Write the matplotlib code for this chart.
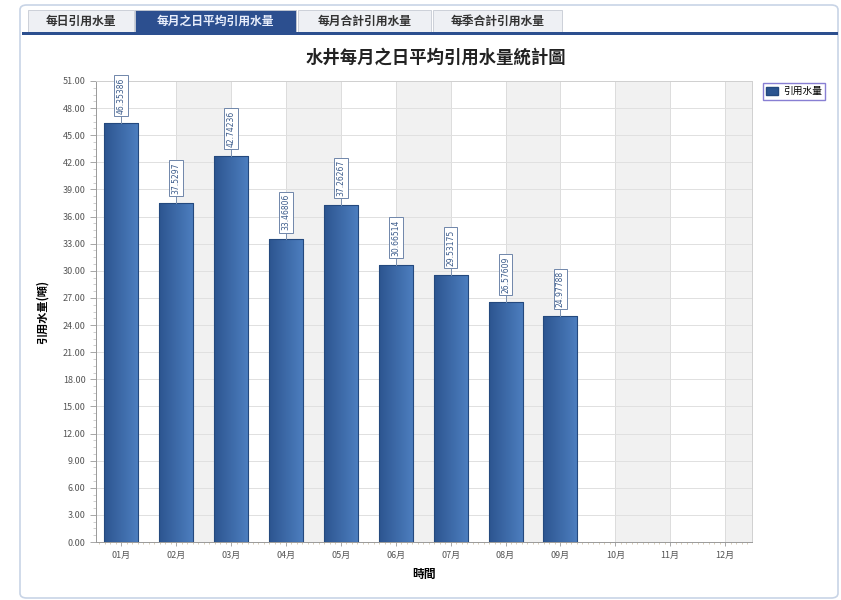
import numpy as np
import matplotlib.pyplot as plt
from matplotlib.patches import Rectangle, FancyBboxPatch
from matplotlib.ticker import MultipleLocator, FormatStrFormatter

# ============================================================
# data
# ============================================================

MONTHS = ["01月", "02月", "03月", "04月", "05月", "06月",
          "07月", "08月", "09月", "10月", "11月", "12月"]
VALUES = [46.35386, 37.5297, 42.74236, 33.46806, 37.26267,
          30.66514, 29.53175, 26.57609, 24.97788]
VALUE_LABELS = ["46.35386", "37.5297", "42.74236", "33.46806", "37.26267",
                "30.66514", "29.53175", "26.57609", "24.97788"]
TABS = ["每日引用水量", "每月之日平均引用水量", "每月合計引用水量", "每季合計引用水量"]

TITLE = "水井每月之日平均引用水量統計圖"
Y_LABEL = "引用水量(噸)"
X_LABEL = "時間"
SERIES = "引用水量"

plt.rcParams["font.family"] = ["Noto Sans CJK TC", "DejaVu Sans"]

BAR_DARK = np.array([0x2c, 0x55, 0x90]) / 255
BAR_LIGHT = np.array([0x4e, 0x7f, 0xc0]) / 255

fig = plt.figure(figsize=(8.41, 6.0), dpi=100)

# ---- outer panel and tabs (figure pixel coords) ----
W, H = 841, 600


def fx(x):
    return x / W


def fy(y):
    return 1 - y / H


panel = FancyBboxPatch((fx(20), fy(598)), fx(818), 593 / H,
                       boxstyle="round,pad=0,rounding_size=0.008",
                       transform=fig.transFigure, facecolor="white",
                       edgecolor="#c8d4e6", linewidth=1.2, zorder=-5)
fig.patches.append(panel)

tab_x = [(28, 134), (135, 296), (298, 431), (433, 562)]
for i, (name, (x0, x1)) in enumerate(zip(TABS, tab_x)):
    sel = i == 1
    fig.patches.append(Rectangle((fx(x0), fy(32)), fx(x1 - x0), 22 / H,
                                 transform=fig.transFigure,
                                 facecolor="#2c4f8f" if sel else "#eef0f4",
                                 edgecolor="#c5cad3", linewidth=0.6, zorder=-4))
    fig.text(fx((x0 + x1) / 2), fy(21), name, ha="center", va="center",
             fontsize=8.5, fontweight="bold",
             color="#e8eefc" if sel else "#333333")

fig.patches.append(Rectangle((fx(22), fy(35)), fx(816), 3 / H,
                             transform=fig.transFigure, facecolor="#2c4f8f",
                             edgecolor="none", zorder=-4))

# ---- chart ----
ax = fig.add_axes([fx(96), fy(542), fx(752 - 96), (542 - 81) / H])
ax.set_zorder(2)
x = np.arange(len(MONTHS))
XLIM = (-0.46, len(MONTHS) - 0.51)

# alternating bands between category centres
for i in range(len(MONTHS)):
    if i % 2 == 1:
        ax.axvspan(i, i + 1, color="#f1f1f1", zorder=0, lw=0)
for xi in x:
    ax.axvline(xi, color="#dcdcdc", lw=0.7, zorder=0.5)
ax.yaxis.grid(True, color="#e0e0e0", lw=0.7, zorder=0.5)
ax.set_axisbelow(True)

bar_w = 0.62
grad = np.linspace(0, 1, 64)[None, :, None]
grad_img = BAR_DARK + (BAR_LIGHT - BAR_DARK) * grad
bars = ax.bar(x[:len(VALUES)], VALUES, width=bar_w, color="none",
              edgecolor="#24497e", linewidth=0.8, zorder=3)
for b in bars:
    x0, y0 = b.get_x(), b.get_y()
    im = ax.imshow(grad_img, extent=(x0, x0 + b.get_width(), y0, y0 + b.get_height()),
                   aspect="auto", zorder=2, interpolation="bilinear")
    im.set_clip_path(b)
ax.set_xlim(*XLIM)
ax.set_ylim(0, 51)

# rotated value labels with leader line
for xi, v, lab in zip(x, VALUES, VALUE_LABELS):
    ax.plot([xi, xi], [v, v + 1.0], color="#7a8fae", lw=0.7, zorder=3)
    ax.text(xi, v + 1.0, lab, rotation=90, ha="center", va="bottom",
            fontsize=5.5, color="#3a5a8a", family="DejaVu Sans", zorder=4,
            bbox=dict(boxstyle="square,pad=0.3", facecolor="white",
                      edgecolor="#6f86aa", linewidth=0.7))

ax.set_xticks(x)
ax.set_xticklabels(MONTHS, fontsize=6.5, color="#555555")
ax.xaxis.set_minor_locator(MultipleLocator(0.1))
ax.yaxis.set_major_locator(MultipleLocator(3))
ax.yaxis.set_minor_locator(MultipleLocator(0.75))
ax.yaxis.set_major_formatter(FormatStrFormatter("%.2f"))
ax.tick_params(axis="y", labelsize=6.5, labelcolor="#555555", color="#999999",
               length=4, width=0.6)
ax.tick_params(axis="y", which="minor", length=2, color="#bbbbbb", width=0.5)
ax.tick_params(axis="x", length=3, color="#999999", width=0.6)
ax.tick_params(axis="x", which="minor", length=1.5, color="#c8b89a", width=0.5)
for side in ["top", "right"]:
    ax.spines[side].set_color("#d0d0d0")
for side in ["left", "bottom"]:
    ax.spines[side].set_color("#999999")
for s in ax.spines.values():
    s.set_linewidth(0.7)

ax.set_ylabel(Y_LABEL, fontsize=8, fontweight="bold", labelpad=10)
ax.set_xlabel(X_LABEL, fontsize=8.5, fontweight="bold", labelpad=6)
fig.text(fx(436), fy(58), TITLE, ha="center", va="center",
         fontsize=12.5, fontweight="bold", color="#222222")

# legend
handle = Rectangle((0, 0), 1, 1, facecolor=BAR_DARK, edgecolor="#24497e")
leg = fig.legend([handle], [SERIES], loc="upper left",
                 bbox_to_anchor=(fx(758), fy(78)), fontsize=7,
                 frameon=True, fancybox=False, handlelength=1.2,
                 handleheight=0.9, borderpad=0.35, handletextpad=0.5)
leg.get_frame().set_edgecolor("#6a5fc8")
leg.get_frame().set_linewidth(1.0)

fig.savefig("out.png", dpi=100)
